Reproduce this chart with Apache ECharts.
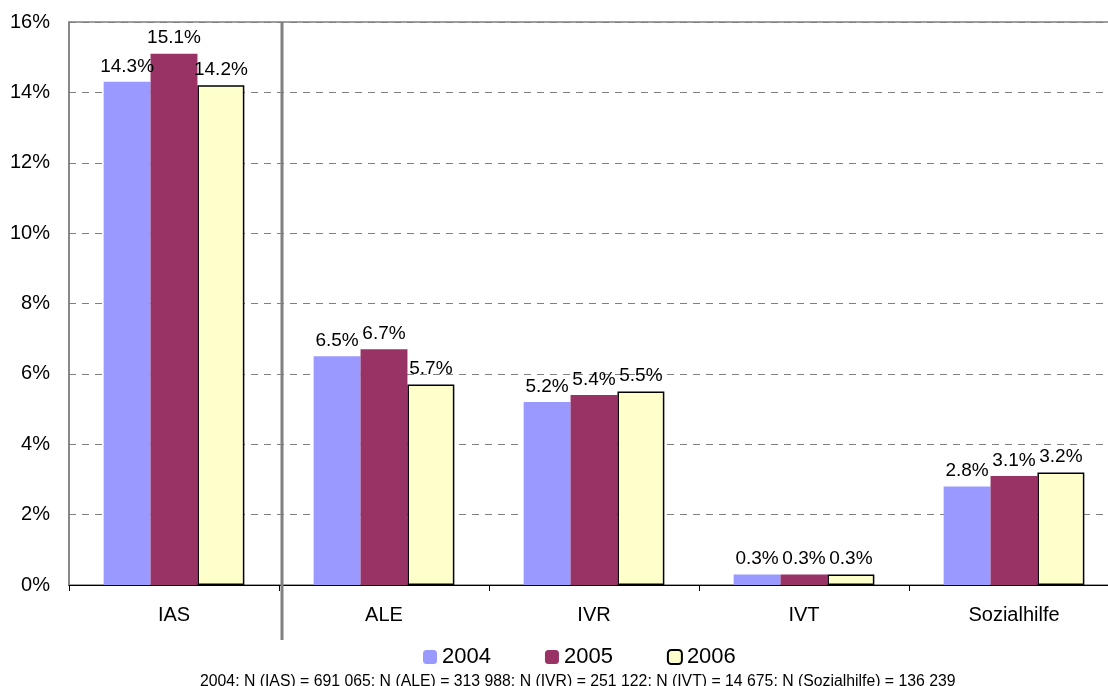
<!DOCTYPE html>
<html>
<head>
<meta charset="utf-8">
<script src="https://cdn.jsdelivr.net/npm/echarts@6/dist/echarts.min.js"></script>
<style>
  html, body { margin: 0; padding: 0; background: #fff; }
  #chart { width: 1108px; height: 686px; }
</style>
</head>
<body>
<div id="chart"></div>
<script>
const categories = ['IAS', 'ALE', 'IVR', 'IVT', 'Sozialhilfe']
const years = ['2004', '2005', '2006']
const values2004 = [14.3, 6.5, 5.2, 0.3, 2.8]
const values2005 = [15.1, 6.7, 5.4, 0.3, 3.1]
const values2006 = [14.2, 5.7, 5.5, 0.3, 3.2]
const yTicks = { min: 0, max: 16, interval: 2 }
const footnote = '2004: N (IAS) = 691 065; N (ALE) = 313 988; N (IVR) = 251 122; N (IVT) = 14 675; N (Sozialhilfe) = 136 239'

const font = 'Liberation Sans, Arial, sans-serif'
const chart = echarts.init(document.getElementById('chart'))

const barLabel = {
  show: true,
  position: 'top',
  distance: 6,
  color: '#000',
  fontFamily: font,
  fontSize: 19,
  formatter: function (p) {
    return p.value.toFixed(1) + '%'
  }
}

const footText = {
  type: 'text',
  left: 200,
  top: 674,
  style: { text: footnote, fill: '#000', font: '15.8px ' + font }
}

const option = {
  animation: false,
  textStyle: { fontFamily: font },
  grid: {
    left: 69,
    top: 22,
    width: 1050,
    height: 563,
    outerBoundsMode: 'none',
    show: true,
    borderColor: '#808080',
    borderWidth: 1.5
  },
  legend: {
    data: years,
    top: 641,
    left: 418,
    itemWidth: 14,
    itemHeight: 14,
    itemGap: 54,
    textStyle: { fontSize: 22, color: '#000', fontFamily: font }
  },
  xAxis: {
    type: 'category',
    data: categories,
    axisLine: { lineStyle: { color: '#000', width: 1.2 } },
    axisTick: { show: true, length: 6, lineStyle: { color: '#000' } },
    axisLabel: { fontSize: 20, color: '#000', margin: 20, fontFamily: font }
  },
  yAxis: {
    type: 'value',
    min: yTicks.min,
    max: yTicks.max,
    interval: yTicks.interval,
    axisLine: { show: true, lineStyle: { color: '#808080', width: 1.5 } },
    axisTick: { show: false },
    axisLabel: { formatter: '{value}%', fontSize: 20, color: '#000', margin: 19, fontFamily: font },
    splitLine: { lineStyle: { color: '#808080', type: [7, 6], width: 1.2 } }
  },
  graphic: [footText],
  series: [
    {
      name: years[0],
      type: 'bar',
      data: values2004,
      barCategoryGap: '33%',
      barGap: '0%',
      itemStyle: { color: '#9999FF' },
      label: barLabel
    },
    {
      name: years[1],
      type: 'bar',
      data: values2005,
      barGap: '0%',
      itemStyle: { color: '#993366' },
      label: barLabel
    },
    {
      name: years[2],
      type: 'bar',
      data: values2006,
      barGap: '0%',
      itemStyle: { color: '#FFFFCC', borderColor: '#000', borderWidth: 1.5 },
      label: barLabel
    }
  ]
}

chart.setOption(option)

// vertical separator between IAS and the other categories
const x0 = chart.convertToPixel({ xAxisIndex: 0 }, 0)
const x1 = chart.convertToPixel({ xAxisIndex: 0 }, 1)
const sepX = (x0 + x1) / 2 + 3
chart.setOption({
  graphic: [
    footText,
    {
      type: 'line',
      shape: { x1: sepX, y1: 22, x2: sepX, y2: 640 },
      style: { stroke: '#808080', lineWidth: 3 },
      z: 10
    }
  ]
})
</script>
</body>
</html>
